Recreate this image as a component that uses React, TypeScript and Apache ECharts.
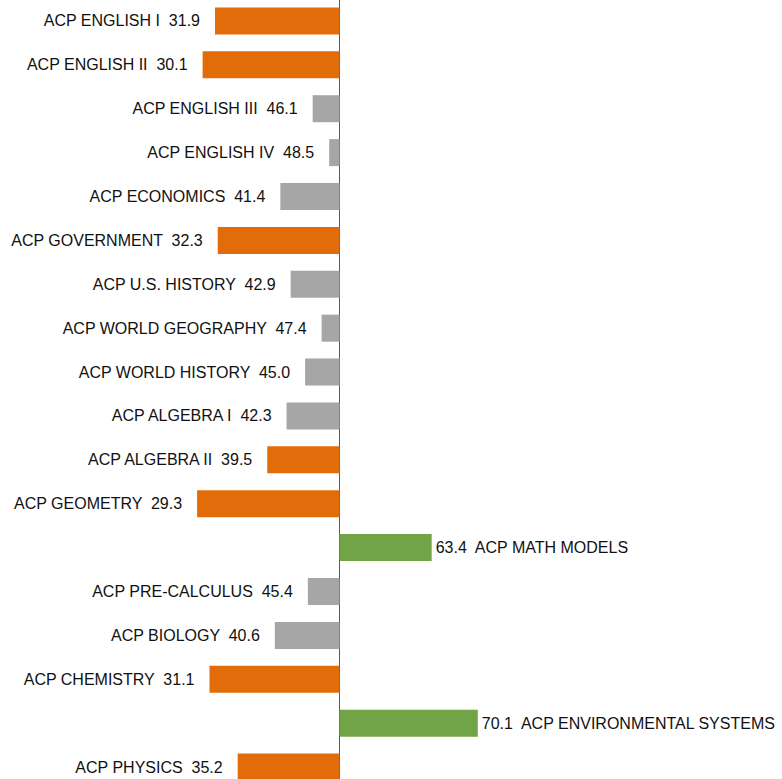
import React, { useEffect, useRef } from "react";
import * as echarts from "echarts";

const categories = [
  "ACP ENGLISH I",
  "ACP ENGLISH II",
  "ACP ENGLISH III",
  "ACP ENGLISH IV",
  "ACP ECONOMICS",
  "ACP GOVERNMENT",
  "ACP U.S. HISTORY",
  "ACP WORLD GEOGRAPHY",
  "ACP WORLD HISTORY",
  "ACP ALGEBRA I",
  "ACP ALGEBRA II",
  "ACP GEOMETRY",
  "ACP MATH MODELS",
  "ACP PRE-CALCULUS",
  "ACP BIOLOGY",
  "ACP CHEMISTRY",
  "ACP ENVIRONMENTAL SYSTEMS",
  "ACP PHYSICS",
];

const scores = [
  31.9, 30.1, 46.1, 48.5, 41.4, 32.3, 42.9, 47.4, 45.0, 42.3, 39.5, 29.3, 63.4,
  45.4, 40.6, 31.1, 70.1, 35.2,
];

const baseline = 50;
const lowThreshold = 40;

const ORANGE = "#E36C0A";
const GRAY = "#A6A6A6";
const GREEN = "#71A446";

export default function App() {
  const ref = useRef<HTMLDivElement>(null);

  useEffect(() => {
    if (!ref.current) return;
    const chart = echarts.init(ref.current, undefined, { renderer: "svg" });

    const data = scores.map((v, i) => {
      const diff = +(v - baseline).toFixed(2);
      const color = v > baseline ? GREEN : v < lowThreshold ? ORANGE : GRAY;
      const name = categories[i];
      return {
        value: diff,
        itemStyle: { color },
        label: {
          show: true,
          position: diff >= 0 ? "right" : "left",
          distance: diff >= 0 ? 4 : 15,
          formatter:
            diff >= 0
              ? `${v.toFixed(1)}  ${name}`
              : `${name}  ${v.toFixed(1)}`,
        },
      };
    });

    chart.setOption({
      animation: false,
      grid: {
        left: 0,
        right: 0,
        top: 0,
        bottom: 0,
        containLabel: false,
        outerBoundsMode: "none",
      },
      xAxis: {
        type: "value",
        min: -49.35,
        max: 64.32,
        show: false,
        splitLine: { show: false },
      },
      yAxis: {
        type: "category",
        data: categories,
        inverse: true,
        axisLine: { show: true, onZero: true, lineStyle: { color: "#595959", width: 1 } },
        axisTick: { show: false },
        axisLabel: { show: false },
        splitLine: { show: false },
      },
      series: [
        {
          type: "bar",
          data,
          barWidth: 27,
          label: {
            color: "#111111",
            fontFamily: "'Liberation Sans', Arial, sans-serif",
            fontSize: 16,
          },
        },
      ],
    });

    return () => chart.dispose();
  }, []);

  return (
    <div
      ref={ref}
      style={{ position: "fixed", left: 0, top: -1.5, width: 782, height: 790.2, background: "#fff" }}
    />
  );
}
